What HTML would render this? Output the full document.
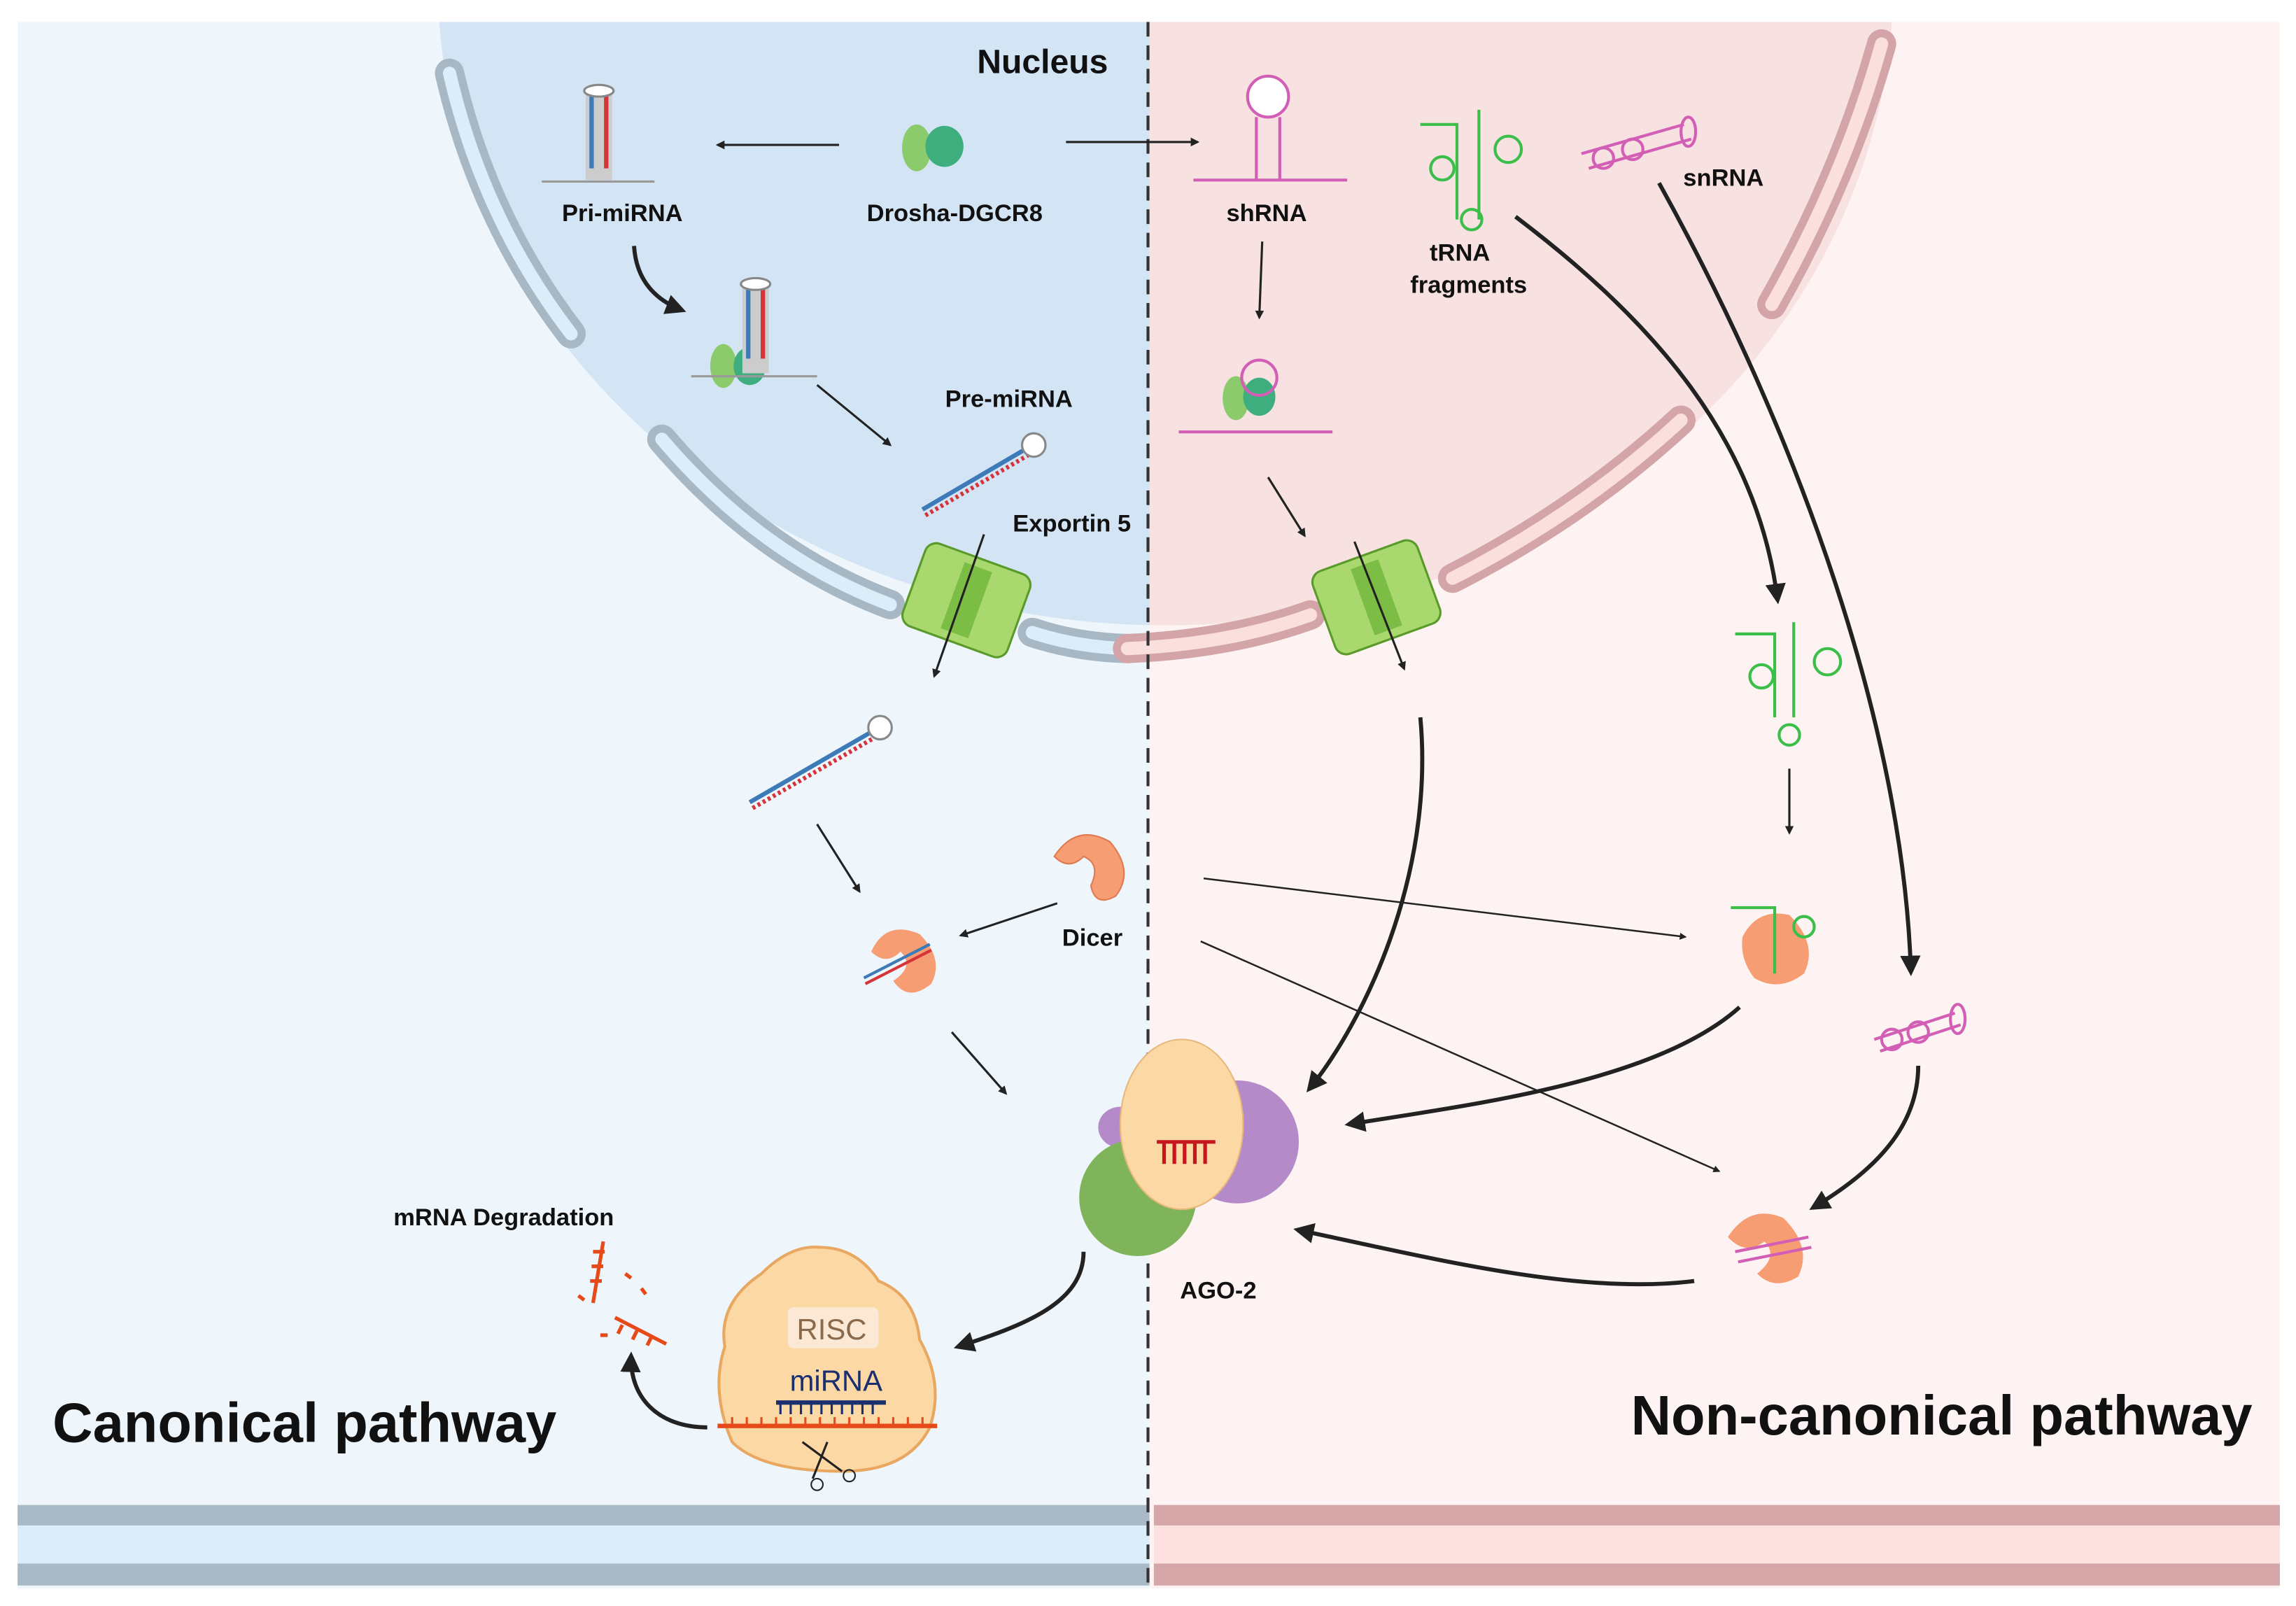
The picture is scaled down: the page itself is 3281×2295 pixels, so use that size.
<!DOCTYPE html>
<html><head><meta charset="utf-8"><style>html,body{margin:0;padding:0;background:#fff}svg{display:block}</style></head><body>
<svg width="3281" height="2295" viewBox="0 0 1568 1097" preserveAspectRatio="none" xmlns="http://www.w3.org/2000/svg" font-family="Liberation Sans, sans-serif">
<defs>
<marker id="a" viewBox="0 0 10 10" refX="8" refY="5" markerWidth="5" markerHeight="5" orient="auto"><path d="M0,0L10,5L0,10z" fill="#222"/></marker>
<marker id="b" viewBox="0 0 10 10" refX="8" refY="5" markerWidth="4" markerHeight="4" orient="auto"><path d="M0,0L10,5L0,10z" fill="#222"/></marker>
<clipPath id="cl"><rect x="0" y="0" width="785" height="1097"/></clipPath>
<clipPath id="cr"><rect x="785" y="0" width="800" height="1097"/></clipPath>
</defs>
<rect width="1568" height="1097" fill="#fff"/>
<rect x="12" y="15" width="773" height="1070" fill="#eef6fc"/>
<rect x="785" y="15" width="772" height="1070" fill="#fdf3f3"/>
<!-- nucleus -->
<g>
<path d="M300,15 A497,440 0 0 0 1292,15 Z" fill="#d3e5f5" clip-path="url(#cl)"/>
<path d="M300,15 A497,440 0 0 0 1292,15 Z" fill="#f7e1e1" clip-path="url(#cr)"/>
</g>
<!-- envelope segments -->
<g fill="none" stroke-linecap="round">
<g stroke="#a7b8c4" stroke-width="20">
<path d="M307,50 Q330,150 390,228"/>
<path d="M452,300 Q520,380 608,413"/>
<path d="M705,432 Q735,442 770,443"/>
</g>
<g stroke="#dcedfa" stroke-width="9">
<path d="M307,50 Q330,150 390,228"/>
<path d="M452,300 Q520,380 608,413"/>
<path d="M705,432 Q735,442 770,443"/>
</g>
<g stroke="#d4a5a8" stroke-width="20">
<path d="M770,443 Q840,440 895,420"/>
<path d="M992,395 Q1080,350 1148,287"/>
<path d="M1210,208 Q1260,120 1285,30"/>
</g>
<g stroke="#fbdede" stroke-width="9">
<path d="M770,443 Q840,440 895,420"/>
<path d="M992,395 Q1080,350 1148,287"/>
<path d="M1210,208 Q1260,120 1285,30"/>
</g>
</g>
<!-- bottom membrane -->
<rect x="12" y="1028" width="773" height="14" fill="#a9bac6"/>
<rect x="12" y="1042" width="773" height="26" fill="#dcedfa"/>
<rect x="12" y="1068" width="773" height="15" fill="#a9bac6"/>
<rect x="788" y="1028" width="769" height="14" fill="#d4a6a8"/>
<rect x="788" y="1042" width="769" height="26" fill="#fde0e0"/>
<rect x="788" y="1068" width="769" height="15" fill="#d4a6a8"/>
<!-- dashed divider -->
<line x1="784" y1="15" x2="784" y2="1085" stroke="#333" stroke-width="2" stroke-dasharray="10,6"/>
<!-- pores -->
<g transform="translate(660,410) rotate(20)"><rect x="-38" y="-30" width="76" height="60" rx="8" fill="#a9d86e" stroke="#5a9a2a" stroke-width="1.5"/><rect x="-10" y="-24" width="20" height="48" fill="#7cbd45"/></g>
<g transform="translate(940,408) rotate(-20)"><rect x="-38" y="-30" width="76" height="60" rx="8" fill="#a9d86e" stroke="#5a9a2a" stroke-width="1.5"/><rect x="-10" y="-24" width="20" height="48" fill="#7cbd45"/></g>
<!-- Drosha -->
<g><ellipse cx="626" cy="101" rx="10" ry="16" fill="#8ccb6c"/><ellipse cx="645" cy="100" rx="13" ry="14" fill="#3fae7f"/></g>
<g><ellipse cx="494" cy="250" rx="9" ry="15" fill="#8ccb6c"/><ellipse cx="512" cy="250" rx="11" ry="13" fill="#3fae7f"/></g>
<g><ellipse cx="844" cy="272" rx="9" ry="15" fill="#8ccb6c"/><ellipse cx="860" cy="271" rx="11" ry="13" fill="#3fae7f"/></g>
<!-- Pri-miRNA hairpins -->
<g stroke-width="3"><line x1="370" y1="124" x2="447" y2="124" stroke="#999" stroke-width="1.5"/>
<rect x="400" y="65" width="18" height="58" fill="#ccc"/><line x1="404" y1="65" x2="404" y2="115" stroke="#3d7ab8"/><line x1="414" y1="65" x2="414" y2="115" stroke="#d4343a"/><ellipse cx="409" cy="62" rx="10" ry="4" fill="#fff" stroke="#888" stroke-width="1.5"/></g>
<g stroke-width="3"><line x1="472" y1="257" x2="558" y2="257" stroke="#999" stroke-width="1.5"/>
<rect x="507" y="197" width="18" height="58" fill="#ccc"/><line x1="511" y1="197" x2="511" y2="245" stroke="#3d7ab8"/><line x1="521" y1="197" x2="521" y2="245" stroke="#d4343a"/><ellipse cx="516" cy="194" rx="10" ry="4" fill="#fff" stroke="#888" stroke-width="1.5"/></g>
<!-- pre-miRNA -->
<g stroke-width="3" fill="none"><path d="M630,348 L700,307" stroke="#3d7ab8"/><path d="M632,352 L702,311" stroke="#d4343a" stroke-dasharray="2,2"/><circle cx="706" cy="304" r="8" fill="#fff" stroke="#888" stroke-width="1.5"/></g>
<g stroke-width="3" fill="none"><path d="M512,548 L595,500" stroke="#3d7ab8"/><path d="M514,552 L597,504" stroke="#d4343a" stroke-dasharray="2,2"/><circle cx="601" cy="497" r="8" fill="#fff" stroke="#888" stroke-width="1.5"/></g>
<!-- shRNA -->
<g fill="none" stroke="#d25fb5" stroke-width="2"><line x1="815" y1="123" x2="920" y2="123"/><path d="M858,123 V80 M874,123 V80"/><circle cx="866" cy="66" r="14" fill="#fff"/></g>
<g fill="none" stroke="#d25fb5" stroke-width="2"><line x1="805" y1="295" x2="910" y2="295"/><circle cx="860" cy="258" r="12"/></g>
<!-- tRNA -->
<g fill="none" stroke="#3bbf4a" stroke-width="2"><path d="M970,85 H995 V150"/><path d="M1010,75 V150"/><circle cx="1030" cy="102" r="9"/><circle cx="985" cy="115" r="8"/><circle cx="1005" cy="150" r="7"/></g>
<g fill="none" stroke="#3bbf4a" stroke-width="2"><path d="M1185,433 H1212 V490"/><path d="M1225,425 V490"/><circle cx="1248" cy="452" r="9"/><circle cx="1203" cy="462" r="8"/><circle cx="1222" cy="502" r="7"/></g>
<!-- snRNA -->
<g fill="none" stroke="#d25fb5" stroke-width="2"><path d="M1080,105 L1150,85 M1085,115 L1155,95"/><ellipse cx="1153" cy="90" rx="5" ry="10"/><circle cx="1095" cy="108" r="7"/><circle cx="1115" cy="102" r="7"/></g>
<g fill="none" stroke="#d25fb5" stroke-width="2"><path d="M1280,710 L1335,692 M1284,718 L1339,700"/><ellipse cx="1337" cy="696" rx="5" ry="10"/><circle cx="1292" cy="710" r="7"/><circle cx="1310" cy="705" r="7"/></g>
<!-- Dicer -->
<g fill="#f79d73" stroke="#e07a50" stroke-width="1"><path d="M720,585 Q735,562 758,575 Q775,595 762,612 Q748,620 745,605 Q752,590 740,585 Q730,595 720,585Z"/></g>
<g><path d="M595,650 Q605,628 628,638 Q645,655 636,672 Q620,685 610,670 Q625,660 615,650 Q605,660 595,650Z" fill="#f79d73"/><line x1="590" y1="668" x2="635" y2="645" stroke="#3d7ab8" stroke-width="2"/><line x1="591" y1="672" x2="636" y2="649" stroke="#d4343a" stroke-width="2"/></g>
<g><path d="M1190,640 Q1200,620 1222,625 Q1242,645 1232,665 Q1215,678 1198,668 Q1188,655 1190,640Z" fill="#f79d73"/><path d="M1182,620 H1212 V665" stroke="#3bbf4a" stroke-width="2" fill="none"/><circle cx="1232" cy="633" r="7" fill="none" stroke="#3bbf4a" stroke-width="2"/></g>
<g><path d="M1180,845 Q1195,822 1218,832 Q1238,852 1228,872 Q1212,882 1200,870 Q1215,858 1205,848 Q1192,858 1180,845Z" fill="#f79d73"/><path d="M1185,855 L1235,845 M1187,862 L1237,852" stroke="#d25fb5" stroke-width="2"/></g>
<!-- AGO-2 -->
<g><ellipse cx="845" cy="780" rx="42" ry="42" fill="#b48bc8"/><ellipse cx="765" cy="770" rx="15" ry="14" fill="#b48bc8"/><ellipse cx="777" cy="818" rx="40" ry="40" fill="#7fb45a"/><ellipse cx="807" cy="768" rx="42" ry="58" fill="#fcd9a4" stroke="#e8b77c" stroke-width="1"/>
<path d="M790,780 H830 M795,780 V795 M802,780 V795 M809,780 V795 M816,780 V795 M823,780 V795" stroke="#c4161c" stroke-width="2.5"/></g>
<!-- RISC -->
<g><path d="M495,920 Q490,890 520,870 Q540,850 560,852 Q585,852 600,875 Q625,885 628,915 Q645,945 635,975 Q620,1005 575,1005 Q520,1005 500,985 Q485,950 495,920Z" fill="#fcd9a4" stroke="#e8a862" stroke-width="2"/>
<rect x="538" y="893" width="62" height="28" rx="4" fill="#fbe9d6"/>
<line x1="530" y1="958" x2="605" y2="958" stroke="#1b2f6e" stroke-width="3"/>
<path d="M533,958 v8 M540,958 v8 M547,958 v8 M554,958 v8 M561,958 v8 M568,958 v8 M575,958 v8 M582,958 v8 M589,958 v8 M596,958 v8" stroke="#1b2f6e" stroke-width="1.5"/>
<line x1="490" y1="974" x2="640" y2="974" stroke="#e64a19" stroke-width="3"/>
<path d="M500,968 v6 M510,968 v6 M520,968 v6 M530,968 v6 M540,968 v6 M550,968 v6 M560,968 v6 M570,968 v6 M580,968 v6 M590,968 v6 M600,968 v6 M610,968 v6 M620,968 v6 M630,968 v6" stroke="#e64a19" stroke-width="1.5"/>
<path d="M548,985 L575,1005 M565,985 L555,1010" stroke="#222" stroke-width="1.5"/><circle cx="558" cy="1014" r="4" fill="none" stroke="#222"/><circle cx="580" cy="1008" r="4" fill="none" stroke="#222"/></g>
<!-- mRNA degradation fragments -->
<g stroke="#e64a19" stroke-width="2.5" fill="none"><path d="M412,848 L405,890"/><path d="M405,855 h8 M404,865 h8 M403,875 h8"/><path d="M420,900 L455,918"/><path d="M425,905 l-3,6 M435,909 l-3,6 M445,913 l-3,6"/><path d="M427,870 l4,3 M395,885 l4,3 M438,880 l3,4 M410,912 l5,0"/></g>
<!-- arrows -->
<g stroke="#222" fill="none" stroke-width="1.5" marker-end="url(#b)">
<path d="M573,99 L490,99"/><path d="M728,97 L818,97"/>
<path d="M558,263 L608,304"/><path d="M862,165 L860,217"/><path d="M866,326 L891,366"/>
<path d="M672,365 L638,462"/><path d="M925,370 L959,457"/>
<path d="M1222,525 L1222,569"/>
<path d="M822,600 L1151,640" stroke-width="1.2"/><path d="M820,643 L1174,800" stroke-width="1.2"/>
<path d="M558,563 L587,609"/><path d="M722,617 L656,639"/><path d="M650,705 L687,747"/>
</g>
<g stroke="#222" fill="none" stroke-width="2.8" marker-end="url(#a)">
<path d="M433,168 Q435,200 466,212"/>
<path d="M1035,148 C1130,220 1200,300 1214,410"/>
<path d="M1133,125 C1230,300 1300,500 1305,664"/>
<path d="M970,490 C980,600 930,700 894,744"/>
<path d="M1188,688 C1130,740 1000,755 921,768"/>
<path d="M1310,728 C1310,770 1280,800 1238,825"/>
<path d="M1157,875 C1080,885 980,860 886,840"/>
<path d="M740,855 C740,890 700,905 654,920"/>
<path d="M483,975 C450,975 430,955 431,926"/>
</g>
<!-- labels -->
<g font-weight="bold" fill="#111" text-anchor="middle" font-size="16.5">
<text x="712" y="50" font-size="23">Nucleus</text>
<text x="425" y="151">Pri-miRNA</text>
<text x="652" y="151">Drosha-DGCR8</text>
<text x="865" y="151">shRNA</text>
<text x="997" y="178">tRNA</text>
<text x="1003" y="200">fragments</text>
<text x="1177" y="127">snRNA</text>
<text x="689" y="278">Pre-miRNA</text>
<text x="732" y="363">Exportin 5</text>
<text x="746" y="646">Dicer</text>
<text x="832" y="887">AGO-2</text>
<text x="344" y="837">mRNA Degradation</text>
<text x="208" y="985" font-size="38">Canonical pathway</text>
<text x="1326" y="980" font-size="38">Non-canonical pathway</text>
</g>
<text x="568" y="915" font-size="20" fill="#8a6a4a" text-anchor="middle">RISC</text>
<text x="571" y="950" font-size="20" fill="#1b2f6e" text-anchor="middle">miRNA</text>
</svg>
</body></html>
